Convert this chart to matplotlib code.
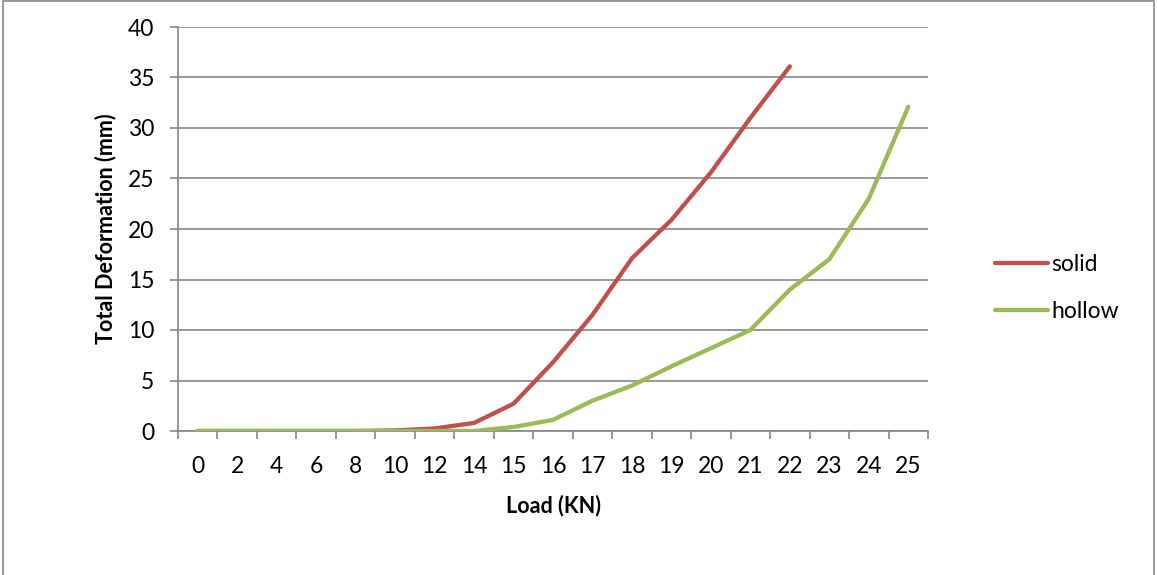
import matplotlib.pyplot as plt
from matplotlib.patches import Rectangle
from matplotlib.ticker import FixedLocator

# Load steps (category axis) and measured deformation
loads = ['0', '2', '4', '6', '8', '10', '12', '14', '15', '16', '17', '18',
         '19', '20', '21', '22', '23', '24', '25']
solid = [0, 0, 0, 0, 0, 0.05, 0.25, 0.8, 2.7, 6.8, 11.5, 17.1, 20.9, 25.6, 31.0, 36.1]
hollow = [0, 0, 0, 0, 0, 0, 0, 0, 0.4, 1.1, 3.0, 4.5, 6.4, 8.2, 10.0, 14.0, 17.0, 23.0, 32.1]

plt.rcParams['font.family'] = ['Lato', 'DejaVu Sans']

fig = plt.figure(figsize=(11.57, 5.75), dpi=100)
ax = fig.add_axes([178 / 1157, 1 - 431 / 575, 750 / 1157, 404 / 575])

grey = '#868686'
ax.plot(range(len(solid)), solid, color='#C0504D', lw=3.1, label='solid',
        solid_capstyle='round', solid_joinstyle='round', zorder=3)
ax.plot(range(len(hollow)), hollow, color='#9BBB59', lw=3.1, label='hollow',
        solid_capstyle='round', solid_joinstyle='round', zorder=3)

ax.set_xlim(-0.5, len(loads) - 0.5)
ax.set_ylim(0, 40)
ax.set_yticks(range(0, 41, 5))
ax.set_xticks(range(len(loads)))
ax.set_xticklabels(loads)
ax.xaxis.set_minor_locator(FixedLocator([i - 0.5 for i in range(len(loads) + 1)]))

ax.yaxis.grid(True, color=grey, lw=1.2)
ax.set_axisbelow(True)
for s in ['top', 'right']:
    ax.spines[s].set_visible(False)
for s in ['left', 'bottom']:
    ax.spines[s].set_color(grey)
    ax.spines[s].set_linewidth(1.2)

ax.tick_params(axis='y', length=6, width=1.2, color=grey, pad=11, labelsize=16.5)
ax.tick_params(axis='x', which='major', length=0, pad=18, labelsize=16.5)
ax.tick_params(axis='x', which='minor', length=6, width=1.2, color=grey)

ax.set_xlabel('Load (KN)', fontsize=15.5, fontweight='bold', labelpad=13)
ax.set_ylabel('Total Deformation (mm)', fontsize=15.5, fontweight='bold', labelpad=8)

ax.legend(loc='center left', bbox_to_anchor=(1.062, 0.354), frameon=False,
          fontsize=16.5, handlelength=2.3, handletextpad=0.15, labelspacing=1.15)

# outer chart border
fig.patches.append(Rectangle((0.003, -0.01), 0.994, 1.008, transform=fig.transFigure,
                             fill=False, edgecolor=grey, lw=1.2))

fig.savefig('out.png', dpi=100)
